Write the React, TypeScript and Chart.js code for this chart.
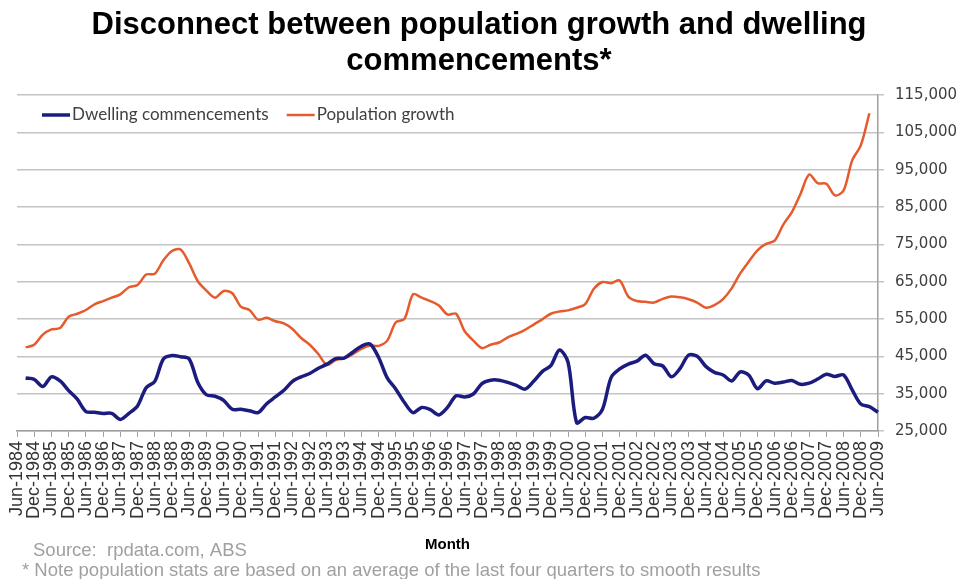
import { useEffect, useRef } from 'react';
import { Chart, registerables } from 'chart.js';

Chart.register(...registerables);

const TICK_LABELS = [
  'Jun-1984', 'Dec-1984', 'Jun-1985', 'Dec-1985', 'Jun-1986', 'Dec-1986', 'Jun-1987', 'Dec-1987',
  'Jun-1988', 'Dec-1988', 'Jun-1989', 'Dec-1989', 'Jun-1990', 'Dec-1990', 'Jun-1991', 'Dec-1991',
  'Jun-1992', 'Dec-1992', 'Jun-1993', 'Dec-1993', 'Jun-1994', 'Dec-1994', 'Jun-1995', 'Dec-1995',
  'Jun-1996', 'Dec-1996', 'Jun-1997', 'Dec-1997', 'Jun-1998', 'Dec-1998', 'Jun-1999', 'Dec-1999',
  'Jun-2000', 'Dec-2000', 'Jun-2001', 'Dec-2001', 'Jun-2002', 'Dec-2002', 'Jun-2003', 'Dec-2003',
  'Jun-2004', 'Dec-2004', 'Jun-2005', 'Dec-2005', 'Jun-2006', 'Dec-2006', 'Jun-2007', 'Dec-2007',
  'Jun-2008', 'Dec-2008', 'Jun-2009',
];

// Quarterly, Sep-1984 .. Jun-2009
const DWELLING = [
  39160, 38800, 36900, 39500, 38400, 35800, 33500, 30200, 30000, 29700,
  29700, 28100, 29700, 31700, 36600, 38300, 44300, 45200, 44900, 44300,
  38000, 34700, 34300, 33200, 30800, 30800, 30400, 29900, 32300, 34100,
  35900, 38300, 39500, 40400, 41800, 42900, 44400, 44500, 46100, 47700,
  48300, 44700, 39200, 36200, 32600, 29900, 31300, 30700, 29300, 31300,
  34400, 34100, 34900, 37700, 38600, 38600, 38000, 37200, 36200, 38300,
  40900, 42500, 46700, 43400, 27200, 28600, 28400, 30800, 39300, 41600,
  42900, 43700, 45300, 43000, 42400, 39500, 41700, 45300, 45000, 42300,
  40700, 40000, 38400, 40800, 39900, 36300, 38400, 37800, 38100, 38500,
  37500, 37800, 38900, 40200, 39600, 40000, 36000, 32200, 31500, 30000,
];

// Quarterly, Sep-1984 .. Mar-2009
const POPULATION = [
  47400, 48100, 50800, 52200, 52600, 55600, 56400, 57400, 58900, 59800,
  60700, 61600, 63500, 64100, 66900, 67100, 70700, 73200, 73600, 69900,
  65100, 62600, 60700, 62500, 61900, 58300, 57400, 54800, 55300, 54400,
  53800, 52300, 49900, 48100, 45600, 42700, 44000, 44500, 45600, 47000,
  47900, 47800, 49200, 54100, 55000, 61600, 60700, 59800, 58600, 56200,
  56400, 51700, 49200, 47200, 48100, 48700, 50100, 51000, 52100, 53500,
  54900, 56400, 57000, 57300, 58000, 59000, 63100, 64900, 64600, 65300,
  61000, 59800, 59600, 59400, 60400, 61000, 60800, 60300, 59400, 58000,
  58700, 60300, 63200, 67200, 70400, 73400, 75100, 76000, 80300, 83600,
  88500, 93700, 91400, 91200, 88100, 89400, 97500, 101500, 110100,
];

const SERIES_NAMES = ['Dwelling commencements', 'Population growth'];
const TITLE_LINES = ['Disconnect between population growth and dwelling', 'commencements*'];
const X_TITLE = 'Month';
const SOURCE_TEXT = 'Source:  rpdata.com, ABS';
const NOTE_TEXT = '* Note population stats are based on an average of the last four quarters to smooth results';

export default function App() {
  const ref = useRef<HTMLCanvasElement>(null);

  useEffect(() => {
    document.body.style.margin = '0';
    const quarters: string[] = [];
    TICK_LABELS.forEach((l, k) => {
      quarters.push(l);
      if (k < TICK_LABELS.length - 1) quarters.push('');
    });
    const dwelling: (number | null)[] = [null, ...DWELLING];
    const population: (number | null)[] = [null, ...POPULATION, null];

    const titleLines = {
      id: 'titleLines',
      afterDraw(chart: any) {
        const ctx = chart.ctx;
        ctx.save();
        ctx.font = 'bold 31px "Liberation Sans", Arial, sans-serif';
        ctx.fillStyle = '#000';
        ctx.textAlign = 'center';
        ctx.textBaseline = 'alphabetic';
        ctx.fillText(TITLE_LINES[0], 479, 34);
        ctx.fillText(TITLE_LINES[1], 479, 70);
        ctx.restore();
      },
    };

    const insideLegend = {
      id: 'insideLegend',
      afterDraw(chart: any) {
        const ctx = chart.ctx;
        const area = chart.chartArea;
        ctx.save();
        ctx.font = '17px Lato';
        ctx.textBaseline = 'middle';
        ctx.textAlign = 'left';
        let x = area.left + 25;
        const y = area.top + 20;
        chart.data.datasets.forEach((ds: any) => {
          ctx.strokeStyle = ds.borderColor;
          ctx.lineWidth = ds.borderWidth;
          ctx.beginPath();
          ctx.moveTo(x, y);
          ctx.lineTo(x + 28, y);
          ctx.stroke();
          ctx.fillStyle = '#404040';
          ctx.fillText(ds.label, x + 30, y);
          x += 30 + ctx.measureText(ds.label).width + 18;
        });
        ctx.restore();
      },
    };

    const footer = {
      id: 'footer',
      afterDraw(chart: any) {
        const ctx = chart.ctx;
        ctx.save();
        ctx.font = '18.5px "Liberation Sans", Arial, sans-serif';
        ctx.fillStyle = '#a0a0a0';
        ctx.textBaseline = 'alphabetic';
        ctx.textAlign = 'left';
        ctx.fillText(SOURCE_TEXT, 33, 556);
        ctx.fillText(NOTE_TEXT, 22, 576);
        ctx.restore();
      },
    };

    const chart = new Chart(ref.current as HTMLCanvasElement, {
      type: 'line',
      data: {
        labels: quarters,
        datasets: [
          {
            label: SERIES_NAMES[0],
            data: dwelling,
            borderColor: '#1c1c7e',
            borderWidth: 3.5,
            pointRadius: 0,
            tension: 0.3,
            fill: false,
          },
          {
            label: SERIES_NAMES[1],
            data: population,
            borderColor: '#e55b2d',
            borderWidth: 2.5,
            pointRadius: 0,
            tension: 0.3,
            fill: false,
          },
        ],
      },
      options: {
        responsive: false,
        animation: false,
        layout: { padding: { left: 17, right: 0, top: 95, bottom: 25 } },
        plugins: {
          legend: { display: false },
          tooltip: { enabled: false },
          title: { display: false },
        },
        scales: {
          x: {
            type: 'category',
            offset: false,
            grid: {
              drawOnChartArea: false,
              tickLength: 6,
              tickColor: (c: any) => (c.index % 2 === 0 ? '#a0a0a0' : 'rgba(0,0,0,0)'),
              lineWidth: 1,
            },
            border: { color: '#a0a0a0', width: 1.5 },
            ticks: {
              autoSkip: false,
              maxRotation: 90,
              minRotation: 90,
              padding: 4,
              color: '#333',
              font: { family: '"Liberation Sans", Arial, sans-serif', size: 18 },
            },
            title: {
              display: true,
              text: X_TITLE,
              color: '#000',
              font: { family: '"Liberation Sans", Arial, sans-serif', size: 15, weight: 'bold' },
              padding: { top: 13, bottom: 0 },
            },
          },
          y: {
            position: 'right',
            min: 25000,
            max: 115000,
            afterFit: (scale: any) => {
              scale.width = 84;
            },
            ticks: {
              stepSize: 10000,
              padding: 11,
              color: '#404040',
              font: { family: '"DejaVu Sans", Verdana, sans-serif', size: 15 },
              callback: (v: any) => Number(v).toLocaleString('en-US'),
            },
            grid: { color: '#c4c4c4', lineWidth: 1.5, tickLength: 6 },
            border: { color: '#a0a0a0', width: 1.5 },
          },
        },
      },
      plugins: [titleLines, insideLegend, footer],
    });
    return () => chart.destroy();
  }, []);

  return (
    <div style={{ width: 962, height: 579 }}>
      <canvas ref={ref} width={962} height={579} style={{ display: 'block' }} />
    </div>
  );
}
